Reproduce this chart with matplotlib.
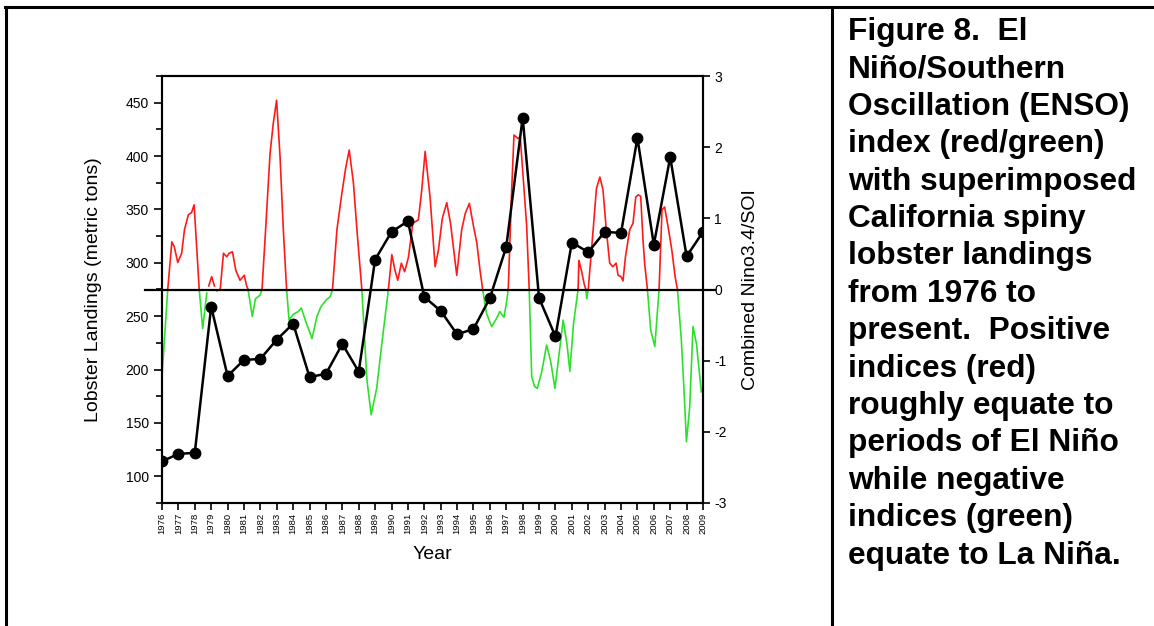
import numpy as np
import matplotlib
matplotlib.use("Agg")
import matplotlib.pyplot as plt
from matplotlib.lines import Line2D

plt.rcParams['font.family'] = ['Liberation Sans', 'DejaVu Sans']
plt.rcParams['axes.unicode_minus'] = False

# lobster landings (metric tons), one point per year
years = list(range(1976, 2010))
landings = [114, 121, 122, 259, 194, 209, 210, 228, 243, 193, 196, 224, 198, 303,
            329, 339, 268, 255, 233, 238, 267, 315, 436, 267, 231, 319, 310, 329,
            328, 417, 317, 399, 306, 329]

# combined Nino3.4/SOI index
enso_t = [1976.0, 1976.35, 1976.6, 1976.75, 1976.96, 1977.2, 1977.37, 1977.61, 1977.8, 1977.96,
          1978.05, 1978.27, 1978.48, 1978.73, 1978.85, 1979.03, 1979.2, 1979.34, 1979.55, 1979.75,
          1979.95, 1980.1, 1980.3, 1980.5, 1980.76, 1981.02, 1981.15, 1981.25, 1981.51, 1981.7,
          1981.98, 1982.1, 1982.32, 1982.59, 1982.79, 1982.99, 1983.2, 1983.4, 1983.6, 1983.75,
          1984.0, 1984.31, 1984.5, 1984.74, 1985.15, 1985.45, 1985.7, 1986.0, 1986.26, 1986.4,
          1986.67, 1986.97, 1987.2, 1987.42, 1987.68, 1987.89, 1988.19, 1988.5, 1988.76, 1989.1,
          1989.41, 1989.81, 1990.02, 1990.2, 1990.38, 1990.6, 1990.8, 1991.03, 1991.3, 1991.64,
          1991.85, 1992.05, 1992.35, 1992.66, 1992.86, 1993.1, 1993.37, 1993.6, 1993.8, 1993.98,
          1994.28, 1994.5, 1994.75, 1995.0, 1995.2, 1995.4, 1995.56, 1995.8, 1996.11, 1996.4,
          1996.6, 1996.86, 1997.0, 1997.12, 1997.33, 1997.47, 1997.73, 1997.85, 1998.24, 1998.4,
          1998.55, 1998.72, 1998.89, 1999.15, 1999.46, 1999.7, 1999.97, 2000.3, 2000.47, 2000.7,
          2000.88, 2001.1, 2001.38, 2001.43, 2001.6, 2001.75, 2001.85, 2001.91, 2002.0, 2002.3,
          2002.5, 2002.71, 2002.9, 2003.1, 2003.31, 2003.5, 2003.7, 2003.82, 2004.0, 2004.12,
          2004.27, 2004.53, 2004.73, 2004.9, 2005.05, 2005.2, 2005.34, 2005.44, 2005.61, 2005.81,
          2006.06, 2006.25, 2006.32, 2006.5, 2006.66, 2006.9, 2007.1, 2007.3, 2007.44, 2007.68,
          2007.84, 2007.99, 2008.19, 2008.39, 2008.6, 2008.9]
enso_v = [-1.22, 0.0, 0.67, 0.6, 0.38, 0.51, 0.84, 1.05, 1.08, 1.19,
          0.84, 0.0, -0.55, -0.05, 0.05, 0.18, 0.05, -0.02, 0.0, 0.51,
          0.46, 0.51, 0.53, 0.27, 0.13, 0.2, 0.06, 0.0, -0.38, -0.13,
          -0.08, 0.0, 0.84, 1.91, 2.34, 2.66, 1.87, 0.84, 0.0, -0.43,
          -0.35, -0.31, -0.26, -0.43, -0.69, -0.38, -0.24, -0.15, -0.1, 0.0,
          0.84, 1.35, 1.7, 1.96, 1.49, 0.84, 0.0, -1.27, -1.76, -1.38,
          -0.76, 0.0, 0.49, 0.28, 0.13, 0.37, 0.25, 0.45, 0.93, 0.98,
          1.41, 1.94, 1.3, 0.32, 0.55, 1.0, 1.22, 0.93, 0.55, 0.2,
          0.84, 1.07, 1.21, 0.89, 0.66, 0.27, 0.0, -0.34, -0.52, -0.41,
          -0.31, -0.39, -0.2, 0.0, 1.4, 2.17, 2.12, 2.15, 0.91, 0.0,
          -1.22, -1.36, -1.39, -1.17, -0.78, -1.0, -1.39, -0.76, -0.43, -0.76,
          -1.15, -0.48, 0.0, 0.41, 0.25, 0.08, 0.0, -0.13, 0.0, 0.84,
          1.42, 1.58, 1.4, 0.84, 0.37, 0.32, 0.37, 0.2, 0.18, 0.12,
          0.46, 0.84, 0.93, 1.3, 1.33, 1.31, 0.7, 0.37, 0.0, -0.57,
          -0.8, -0.2, 0.0, 1.12, 1.16, 0.84, 0.55, 0.18, 0.0, -0.71,
          -1.41, -2.14, -1.65, -0.52, -0.76, -1.44]

caption = ["Figure 8.  El", "Niño/Southern", "Oscillation (ENSO)", "index (red/green)",
           "with superimposed", "California spiny", "lobster landings", "from 1976 to",
           "present.  Positive", "indices (red)", "roughly equate to", "periods of El Niño",
           "while negative", "indices (green)", "equate to La Niña."]

W, H = 1154, 626
fig = plt.figure(figsize=(W / 100, H / 100), dpi=100)
ax = fig.add_axes([162 / W, 1 - 503 / H, 541 / W, 427 / H])
ax2 = ax.twinx()

# ENSO: red above zero, green below
v = np.array(enso_v)
ax2.plot(enso_t, np.where(v <= 0, v, np.nan), color='#2ee02e', lw=1.2)
ax2.plot(enso_t, np.where(v >= 0, v, np.nan), color='#ff1a1a', lw=1.2)
ax2.axhline(0, xmin=-0.031, xmax=1.022, color='black', lw=1.6, clip_on=False, zorder=4)
ax2.set_ylim(-3, 3)
ax2.set_yticks([-3, -2, -1, 0, 1, 2, 3])
ax2.tick_params(axis='y', direction='out', length=5, width=1.2, pad=3, labelsize=10)

# lobster landings on top
ax.set_zorder(ax2.get_zorder() + 1)
ax.patch.set_visible(False)
ax.plot(years, landings, color='black', lw=1.8, marker='o', markersize=7.5)
ax.set_xlim(1976, 2009)
ax.set_ylim(75, 475)
ax.set_yticks(range(100, 451, 50))
ax.set_yticks(range(75, 476, 50), minor=True)
ax.set_xticks(years)
ax.set_xticklabels([str(y) for y in years], rotation=90, fontsize=6.8)
ax.tick_params(axis='y', which='major', direction='out', length=6, width=1.2, labelsize=10)
ax.tick_params(axis='y', which='minor', direction='out', length=4, width=1.2)
ax.tick_params(axis='x', direction='out', length=5, width=1.2, pad=2)

for a in (ax, ax2):
    for s in a.spines.values():
        s.set_linewidth(1.5)

ax.text(-0.127, 0.5, 'Lobster Landings (metric tons)', transform=ax.transAxes,
        rotation=90, ha='center', va='center', fontsize=14)
ax.text(1.087, 0.5, 'Combined Nino3.4/SOI', transform=ax.transAxes,
        rotation=90, ha='center', va='center', fontsize=14)
ax.text(0.5, -0.12, 'Year', transform=ax.transAxes, ha='center', va='center', fontsize=14)

# table frame around chart and caption
frame = dict(color='black', lw=2.2, transform=fig.transFigure)
fig.add_artist(Line2D([5 / W, 1], [1 - 7 / H, 1 - 7 / H], **frame))
fig.add_artist(Line2D([6 / W, 6 / W], [0, 1 - 7 / H], **frame))
fig.add_artist(Line2D([832 / W, 832 / W], [0, 1 - 7 / H], **frame))

for i, line in enumerate(caption):
    fig.text(848 / W, 1 - (32 + i * 37.4) / H, line, ha='left', va='center',
             fontsize=22.8, fontweight='bold')

fig.savefig('out.png', dpi=100)
